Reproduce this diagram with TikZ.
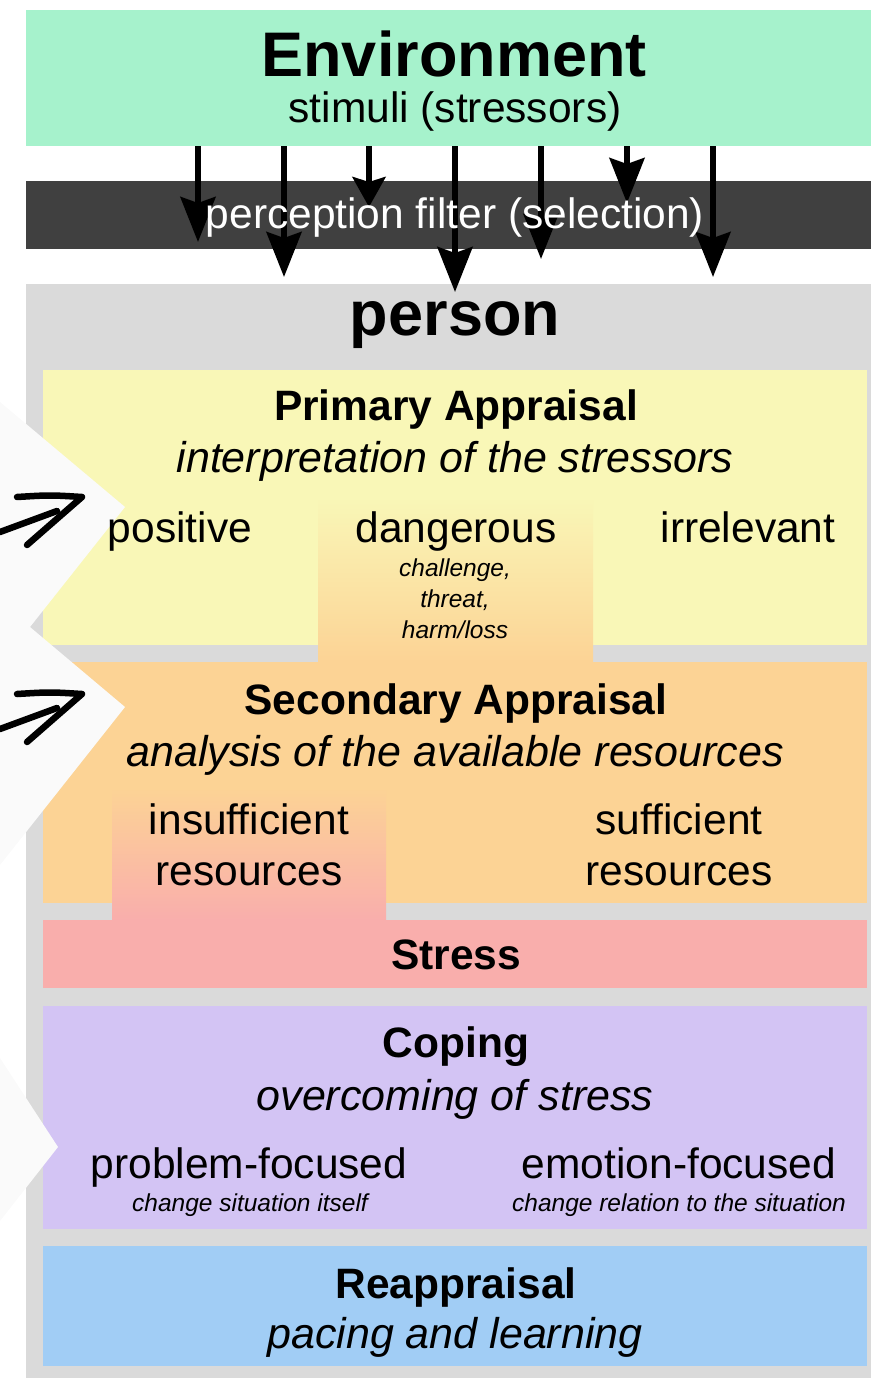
\documentclass[tikz,border=0pt]{standalone}
\usepackage{fontspec}
\setmainfont{Liberation Sans}
\usetikzlibrary{arrows.meta}
\definecolor{envc}{RGB}{166,242,204}
\definecolor{filtc}{RGB}{64,64,64}
\definecolor{persc}{RGB}{218,218,218}
\definecolor{primc}{RGB}{249,247,183}
\definecolor{secc}{RGB}{252,211,149}
\definecolor{strc}{RGB}{249,174,172}
\definecolor{copc}{RGB}{211,196,244}
\definecolor{reac}{RGB}{161,205,245}
\definecolor{wshape}{RGB}{250,250,250}
\tikzset{
  box/.style={draw=none, inner sep=0pt, outer sep=0pt, anchor=north west},
  txt/.style={anchor=base, inner sep=0pt, outer sep=0pt, font=\fontsize{42.5}{49}\selectfont},
  bigt/.style={anchor=base, inner sep=0pt, outer sep=0pt, font=\fontsize{63}{70}\selectfont\bfseries},
  hd/.style={anchor=base, inner sep=0pt, outer sep=0pt, font=\fontsize{42.5}{49}\selectfont\bfseries},
  itx/.style={anchor=base, inner sep=0pt, outer sep=0pt, font=\fontsize{43}{49}\selectfont\itshape},
  smt/.style={anchor=base, inner sep=0pt, outer sep=0pt, font=\fontsize{24.5}{30}\selectfont\itshape},
  stim/.style={line width=5.5pt, -{Stealth[length=45pt,width=35pt,inset=6pt]}},
  stimshort/.style={line width=5.5pt, -{Stealth[length=30pt,width=33pt,inset=5pt]}},
  hand/.style={line width=6.5pt, line cap=round, line join=round, black},
}
\begin{document}
\begin{tikzpicture}[x=1pt,y=-1pt]
\useasboundingbox (0,0) rectangle (871,1378);
% boxes
\node[box, fill=envc, minimum width=845pt, minimum height=136pt] (env) at (26,10) {};
\node[box, fill=filtc, minimum width=845pt, minimum height=68pt] (filt) at (26,181) {};
\node[box, fill=persc, minimum width=845pt, minimum height=1094pt] (pers) at (26,284) {};
\node[box, fill=primc, minimum width=824pt, minimum height=275pt] (prim) at (43,370) {};
\node[box, fill=secc, minimum width=824pt, minimum height=241pt] (sec) at (43,662) {};
\node[box, fill=strc, minimum width=824pt, minimum height=68pt] (str) at (43,920) {};
\node[box, fill=copc, minimum width=824pt, minimum height=223pt] (cop) at (43,1006) {};
\node[box, fill=reac, minimum width=824pt, minimum height=120pt] (rea) at (43,1246) {};
\node[box, top color=primc, bottom color=secc, minimum width=275pt, minimum height=165pt] (dang) at (318,497) {};
\node[box, top color=secc, bottom color=strc, minimum width=274pt, minimum height=132pt] (insuf) at (112,788) {};
% white zigzag shapes on the left
\fill[wshape] (0,402) -- (125,507) -- (30,627) -- (125,707) -- (0,865) -- cycle;
\fill[wshape] (0,1058) -- (58,1147) -- (0,1221) -- cycle;
% hand drawn arrows
\draw[hand] (17,497) .. controls (50,495) .. (82,497) -- (27,545);
\draw[hand] (0,532) -- (57,511);
\draw[hand] (17,694) .. controls (50,692) .. (82,694) -- (27,742);
\draw[hand] (0,729) -- (57,708);
% stimulus arrows
\coordinate (e1) at (198,146); \coordinate (t1) at (198,242);
\coordinate (e2) at (284,146); \coordinate (t2) at (284,277);
\coordinate (e3) at (369,146); \coordinate (t3) at (369,207);
\coordinate (e4) at (455,146); \coordinate (t4) at (455,292);
\coordinate (e5) at (541,146); \coordinate (t5) at (541,259);
\coordinate (e6) at (627,146); \coordinate (t6) at (627,203);
\coordinate (e7) at (713,146); \coordinate (t7) at (713,277);
\draw[stim] (e1) -- (t1);
\draw[stim] (e2) -- (t2);
\draw[stimshort] (e3) -- (t3);
\draw[stim] (e4) -- (t4);
\draw[stim] (e5) -- (t5);
\draw[stim] (e6) -- (t6);
\draw[stim] (e7) -- (t7);
% texts
\node[bigt] (tenv) at (454,77) {Environment};
\node[txt] (tstim) at (455,123) {stimuli (stressors)};
\node[txt, text=white] (tfilt) at (455,228) {perception filter (selection)};
\node[bigt] (tpers) at (455,335) {person};
\node[hd] (tprim) at (456,420) {Primary Appraisal};
\node[itx] (tprimi) at (455,472) {interpretation of the stressors};
\node[txt] (tpos) at (180,542) {positive};
\node[txt] (tdang) at (456,542) {dangerous};
\node[txt] (tirr) at (748,542) {irrelevant};
\node[smt] (tch) at (455,576) {challenge,};
\node[smt] (tth) at (455,607) {threat,};
\node[smt] (tha) at (455,638) {harm/loss};
\node[hd] (tsec) at (456,714) {Secondary Appraisal};
\node[itx] (tseci) at (455,766) {analysis of the available resources};
\node[txt] (tins1) at (249,834) {insufficient};
\node[txt] (tins2) at (249,885) {resources};
\node[txt] (tsuf1) at (679,834) {sufficient};
\node[txt] (tsuf2) at (679,885) {resources};
\node[hd] (tstr) at (456,969) {Stress};
\node[hd] (tcop) at (456,1057) {Coping};
\node[itx] (tcopi) at (455,1110) {overcoming of stress};
\node[txt] (tprob) at (249,1178) {problem-focused};
\node[txt] (temo) at (679,1178) {emotion-focused};
\node[smt] (tprobs) at (250,1211) {change situation itself};
\node[smt] (temos) at (679,1211) {change relation to the situation};
\node[hd] (trea) at (456,1298) {Reappraisal};
\node[itx] (treai) at (455,1348) {pacing and learning};
\end{tikzpicture}
\end{document}
